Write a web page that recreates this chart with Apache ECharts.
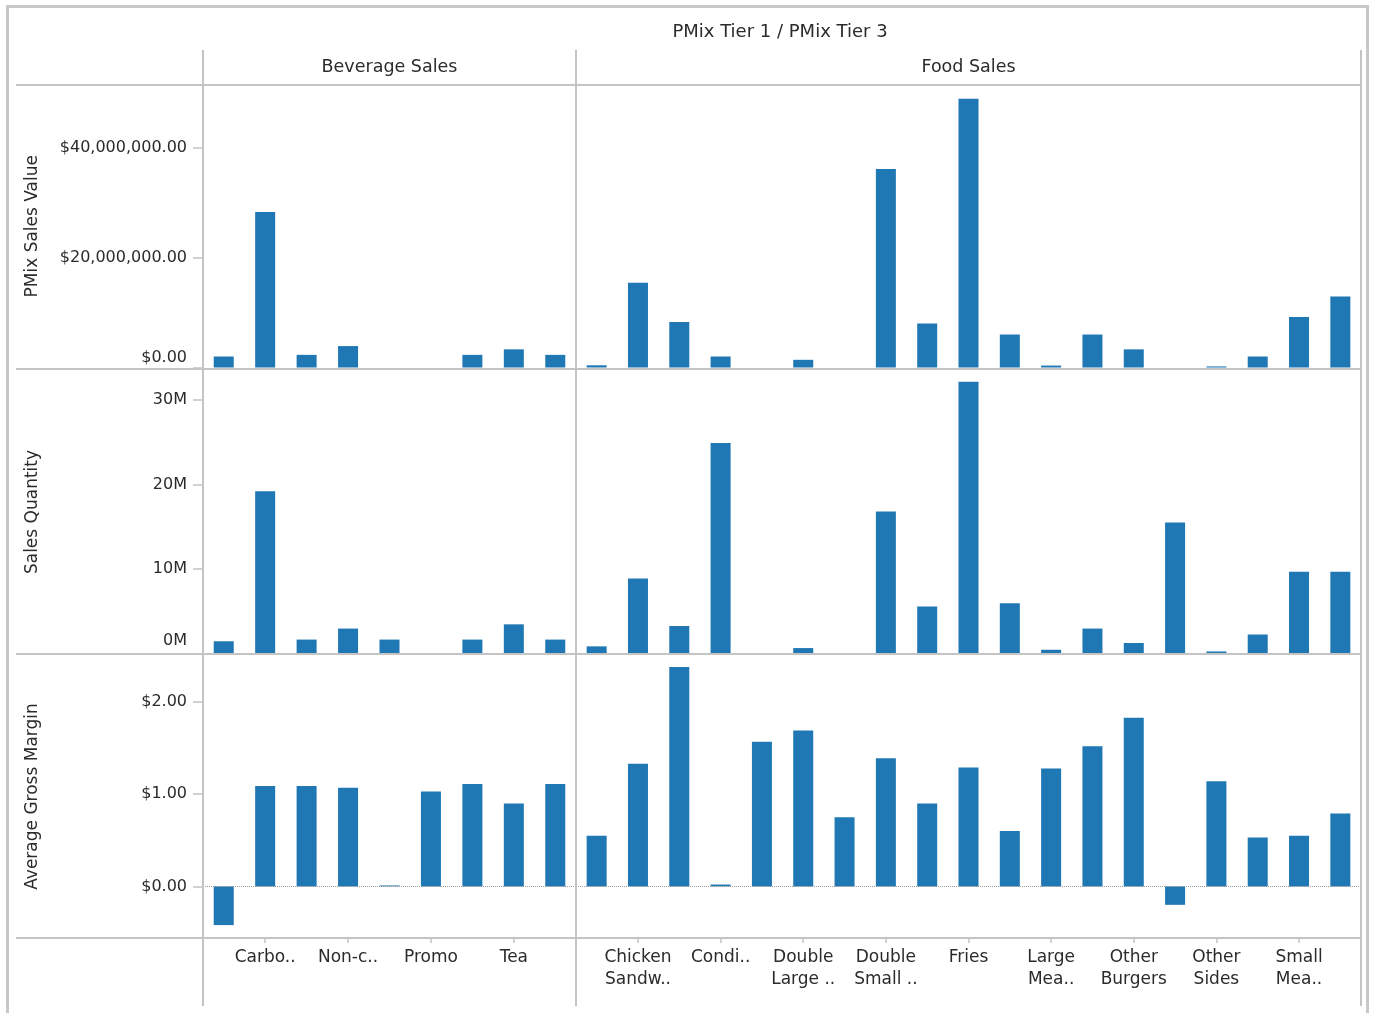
<!DOCTYPE html>
<html>
<head>
<meta charset="utf-8">
<script src="https://cdn.jsdelivr.net/npm/echarts@6/dist/echarts.min.js"></script>
<style>
  html, body { margin: 0; padding: 0; background: #ffffff; }
  #chart { width: 1375px; height: 1013px; }
</style>
</head>
<body>
<div id="chart"></div>
<script>
// ---------------- DATA ----------------
const chartTitle = 'PMix Tier 1 / PMix Tier 3';
const paneNames = ['Beverage Sales', 'Food Sales'];
const measureNames = ['PMix Sales Value', 'Sales Quantity', 'Average Gross Margin'];

// Categories (every other label is hidden, as in the reference)
const bevCategories = ['Beverage item 1', 'Carbo..', 'Beverage item 3', 'Non-c..', 'Beverage item 5',
  'Promo', 'Beverage item 7', 'Tea', 'Beverage item 9'];
const foodCategories = ['Food item 1', 'Chicken\nSandw..', 'Food item 3', 'Condi..', 'Food item 5',
  'Double\nLarge ..', 'Food item 7', 'Double\nSmall ..', 'Food item 9', 'Fries', 'Food item 11',
  'Large\nMea..', 'Food item 13', 'Other\nBurgers', 'Food item 15', 'Other\nSides', 'Food item 17',
  'Small\nMea..', 'Food item 19'];

// PMix Sales Value ($)
const bevSalesValue = [2000000, 28300000, 2300000, 3900000, 0, null, 2300000, 3300000, 2300000];
const foodSalesValue = [400000, 15400000, 8300000, 2000000, null, 1400000, null, 36100000, 8000000,
  48900000, 6000000, 350000, 6000000, 3300000, null, 200000, 2000000, 9200000, 12900000];

// Sales Quantity (units)
const bevQuantity = [1500000, 19200000, 1700000, 3000000, 1700000, null, 1700000, 3500000, 1700000];
const foodQuantity = [900000, 8900000, 3300000, 24900000, null, 700000, null, 16800000, 5600000,
  32100000, 6000000, 500000, 3000000, 1300000, 15500000, 300000, 2300000, 9700000, 9700000];

// Average Gross Margin ($)
const bevMargin = [-0.42, 1.09, 1.09, 1.07, 0.01, 1.03, 1.11, 0.90, 1.11];
const foodMargin = [0.55, 1.33, 2.38, 0.02, 1.57, 1.69, 0.75, 1.39, 0.90, 1.29, 0.60, 1.28,
  1.52, 1.83, -0.20, 1.14, 0.53, 0.55, 0.79];

// Tick values
const salesValueTicks = [0, 20000000, 40000000];
const quantityTicks = [0, 10000000, 20000000, 30000000];
const marginTicks = [0, 1, 2];

// ---------------- CHART ----------------
const FONT = '"DejaVu Sans", "Noto Sans", sans-serif';
const TEXT = '#2b2b2b';
const LINE = '#c4c4c4';
const BAR = '#1f77b4';

function money(v) {
  const neg = v < 0;
  const s = Math.abs(v).toFixed(2);
  const parts = s.split('.');
  parts[0] = parts[0].replace(/\B(?=(\d{3})+(?!\d))/g, ',');
  return (neg ? '-' : '') + '$' + parts.join('.');
}

const columns = [
  { left: 203, width: 373, categories: bevCategories },
  { left: 576, width: 785, categories: foodCategories }
];
const rows = [
  { top: 85, height: 282.5, min: 0, max: 51400000, ticks: salesValueTicks,
    data: [bevSalesValue, foodSalesValue], name: measureNames[0],
    fmt: v => money(v), lift: 20, zeroLine: false },
  { top: 370, height: 284, min: 0, max: 33500000, ticks: quantityTicks,
    data: [bevQuantity, foodQuantity], name: measureNames[1],
    fmt: v => (v / 1000000) + 'M', lift: 27, zeroLine: false },
  { top: 655, height: 283, min: -0.56, max: 2.51, ticks: marginTicks,
    data: [bevMargin, foodMargin], name: measureNames[2],
    fmt: v => money(v), lift: 0, zeroLine: true }
];

const grid = [], xAxis = [], yAxis = [], series = [];
rows.forEach((row, r) => {
  columns.forEach((col, c) => {
    const idx = grid.length;
    const isBottom = r === rows.length - 1;
    const isLeft = c === 0;
    grid.push({ left: col.left, width: col.width, top: row.top, height: row.height, containLabel: false });
    xAxis.push({
      type: 'category', gridIndex: idx, data: col.categories, position: 'bottom',
      axisLine: { show: false, onZero: false },
      axisTick: {
        show: isBottom, alignWithLabel: true, length: 5,
        interval: (i) => i % 2 === 1,
        lineStyle: { color: LINE, width: 1.5 }
      },
      axisLabel: {
        show: isBottom, interval: (i) => i % 2 === 1, margin: 9,
        fontFamily: FONT, fontSize: 17, lineHeight: 22, color: TEXT
      },
      splitLine: { show: false }
    });
    yAxis.push({
      type: 'value', gridIndex: idx, min: row.min, max: row.max,
      name: isLeft ? row.name : '',
      nameLocation: 'middle', nameGap: 162, nameRotate: 90,
      nameTextStyle: { fontFamily: FONT, fontSize: 17, color: TEXT },
      axisLine: { show: false },
      splitLine: { show: false },
      axisTick: {
        show: isLeft, length: 10, customValues: row.ticks,
        lineStyle: { color: LINE, width: 1.5 }
      },
      axisLabel: {
        show: isLeft, customValues: row.ticks, margin: 16,
        fontFamily: FONT, fontSize: 16, color: TEXT,
        formatter: (v) => {
          const t = row.fmt(v);
          return (v === 0 && row.lift) ? '{lift|' + t + '}' : t;
        },
        rich: {
          lift: { fontFamily: FONT, fontSize: 16, color: TEXT, padding: [0, 0, row.lift, 0] }
        }
      }
    });
    const s = {
      type: 'bar', xAxisIndex: idx, yAxisIndex: idx,
      data: row.data[c], barWidth: 20,
      itemStyle: { color: BAR },
      silent: true
    };
    if (row.zeroLine) {
      s.markLine = {
        silent: true, symbol: ['none', 'none'], label: { show: false },
        lineStyle: { type: 'dotted', color: '#9a9a9a', width: 1 },
        data: [{ yAxis: 0 }]
      };
    }
    series.push(s);
  });
});

function hLine(y, x1, x2) {
  return { type: 'line', z: 50, shape: { x1: x1, y1: y, x2: x2, y2: y }, style: { stroke: LINE, lineWidth: 2 } };
}
function vLine(x, y1, y2) {
  return { type: 'line', z: 50, shape: { x1: x, y1: y1, x2: x, y2: y2 }, style: { stroke: LINE, lineWidth: 2 } };
}
function label(text, x, y, size) {
  return { type: 'text', z: 60, x: x, y: y,
    style: { text: text, fontFamily: FONT, fontSize: size, fill: TEXT, align: 'center', verticalAlign: 'middle' } };
}

const graphic = [
  { type: 'rect', z: 40, shape: { x: 7.5, y: 6.5, width: 1360, height: 1030 },
    style: { fill: 'none', stroke: '#c8c8c8', lineWidth: 3 } },
  hLine(85, 16, 1361), hLine(369, 16, 1361), hLine(654, 16, 1361), hLine(938, 16, 1361),
  vLine(203, 50, 1006), vLine(576, 50, 1006), vLine(1361, 50, 1006),
  label(chartTitle, 780, 32, 18),
  label(paneNames[0], 389.5, 67, 17.5),
  label(paneNames[1], 968.5, 67, 17.5)
];

const chart = echarts.init(document.getElementById('chart'), null, { renderer: 'canvas' });
chart.setOption({
  animation: false,
  backgroundColor: '#ffffff',
  grid: grid, xAxis: xAxis, yAxis: yAxis, series: series, graphic: graphic
});
</script>
</body>
</html>
